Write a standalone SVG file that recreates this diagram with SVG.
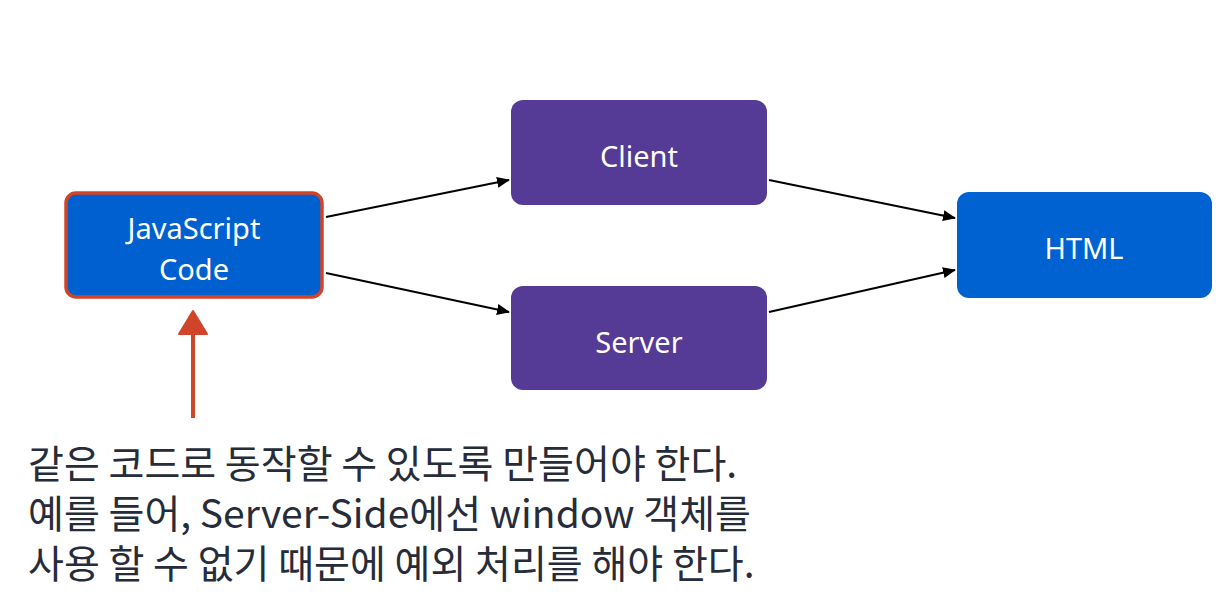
<svg xmlns="http://www.w3.org/2000/svg" width="1227" height="597" viewBox="0 0 1227 597">
<style>
.lbl{font-family:"Noto Sans","Noto Sans CJK KR",sans-serif;font-size:29px;fill:#ffffff;text-anchor:middle;dominant-baseline:central}
.note{font-family:"Noto Sans CJK KR","Noto Sans",sans-serif;font-size:39px;fill:#262c3a}
.conn{stroke:#000;stroke-width:2;fill:none;marker-end:url(#ah)}
</style>
<defs>
<marker id="ah" markerWidth="13" markerHeight="11" refX="12" refY="5.5" orient="auto" markerUnits="userSpaceOnUse">
<path d="M0,0 L13,5.5 L0,11 z" fill="#000"/>
</marker>
</defs>
<rect width="1227" height="597" fill="#ffffff"/>
<g id="connectors">
<line class="conn" x1="326" y1="217" x2="509" y2="180"/>
<line class="conn" x1="326" y1="273" x2="509" y2="312"/>
<line class="conn" x1="769" y1="180" x2="955" y2="218"/>
<line class="conn" x1="769" y1="312" x2="955" y2="270"/>
<g id="red-arrow">
<line x1="193" y1="418" x2="193" y2="330" stroke="#d0452a" stroke-width="4"/>
<path d="M179,334 L193,311 L207,334 z" fill="#d0452a" stroke="#d0452a" stroke-width="2" stroke-linejoin="round"/>
</g>
</g>
<g id="node-js">
<rect x="66" y="193" width="256" height="104" rx="10" fill="#0060d0" stroke="#d0452a" stroke-width="3.5"/>
<text class="lbl" x="194" y="227">JavaScript</text>
<text class="lbl" x="194" y="268">Code</text>
</g>
<g id="node-client">
<rect x="511" y="100" width="256" height="105" rx="12" fill="#553a96"/>
<text class="lbl" x="639" y="155">Client</text>
</g>
<g id="node-server">
<rect x="511" y="286" width="256" height="104" rx="12" fill="#553a96"/>
<text class="lbl" x="639" y="341">Server</text>
</g>
<g id="node-html">
<rect x="957" y="192" width="255" height="106" rx="12" fill="#0062d1"/>
<text class="lbl" x="1084" y="247">HTML</text>
</g>
<g id="note">
<text class="note" x="28" y="478">같은 코드로 동작할 수 있도록 만들어야 한다.</text>
<text class="note" x="28" y="528">예를 들어, Server-Side에선 window 객체를</text>
<text class="note" x="28" y="578">사용 할 수 없기 때문에 예외 처리를 해야 한다.</text>
</g>
</svg>
